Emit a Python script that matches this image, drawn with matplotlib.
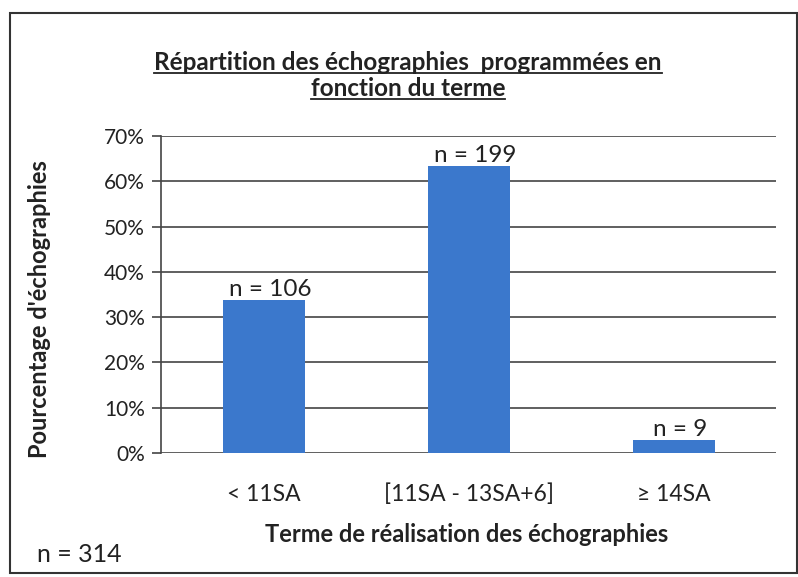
import matplotlib
matplotlib.use("Agg")
import matplotlib.pyplot as plt
from matplotlib.lines import Line2D
from matplotlib.patches import Rectangle

categories = ["< 11SA", "[11SA - 13SA+6]", "≥ 14SA"]
counts = [106, 199, 9]
total = 314
percent = [c / total for c in counts]
bar_labels = ["n = 106", "n = 199", "n = 9"]
yticks = [0, 0.1, 0.2, 0.3, 0.4, 0.5, 0.6, 0.7]
ytick_labels = ["0%", "10%", "20%", "30%", "40%", "50%", "60%", "70%"]

plt.rcParams['font.family'] = ['Lato', 'DejaVu Sans']

W, H = 798, 577
fig = plt.figure(figsize=(W / 100, H / 100), dpi=100)
fig.patch.set_facecolor("white")

# outer border
fig.patches.append(Rectangle((10 / W, 1 - 573 / H), (797 - 10) / W, (573 - 13) / H,
                             transform=fig.transFigure, fill=False,
                             edgecolor="#333333", linewidth=1.5))

ax = fig.add_axes([161 / W, 1 - 453 / H, (776 - 161) / W, (453 - 136) / H])
x = list(range(len(categories)))
ax.bar(x, percent, width=0.4, color="#3b78cc", zorder=3)
ax.set_xlim(-0.5, 2.5)
ax.set_ylim(0, 0.7)
ax.set_yticks(yticks)
ax.set_yticklabels(ytick_labels, fontsize=15, color="#222222")
ax.set_xticks(x)
ax.set_xticklabels(categories, fontsize=16.5, color="#222222")
ax.tick_params(axis="x", length=0, pad=22)
ax.tick_params(axis="y", length=6.5, width=1.2, color="#444444", pad=5)
ax.yaxis.grid(True, color="#444444", linewidth=1.2, zorder=0)
for s in ["top", "right", "bottom"]:
    ax.spines[s].set_visible(False)
ax.spines["left"].set_color("#444444")
ax.spines["left"].set_linewidth(1.2)

for xi, p, lab in zip(x, percent, bar_labels):
    ax.annotate(lab, (xi, p), xytext=(5, 0), textcoords="offset points",
                ha="center", va="bottom", fontsize=17.5, color="#222222")

fig.text(467 / W, 1 - 535 / H, "Terme de réalisation des échographies",
         ha="center", va="center", fontsize=17, fontweight="bold", color="#222222")
fig.text(40 / W, 1 - 309 / H, "Pourcentage d'échographies", rotation=90,
         ha="center", va="center", fontsize=17, fontweight="bold", color="#222222")
fig.text(79 / W, 1 - 555 / H, "n = 314", ha="center", va="center",
         fontsize=18, color="#222222")

t1 = fig.text(408 / W, 1 - 62 / H, "Répartition des échographies  programmées en",
              ha="center", va="center", fontsize=17.5, fontweight="bold", color="#222222")
t2 = fig.text(408 / W, 1 - 88 / H, "fonction du terme",
              ha="center", va="center", fontsize=17.5, fontweight="bold", color="#222222")

fig.canvas.draw()
r = fig.canvas.get_renderer()
for t in (t1, t2):
    bb = t.get_window_extent(renderer=r)
    yline = bb.y0 + 1
    fig.lines.append(Line2D([bb.x0 / W, bb.x1 / W], [yline / H, yline / H],
                            transform=fig.transFigure, color="#222222", linewidth=1.3))

fig.savefig("out.png", dpi=100)
